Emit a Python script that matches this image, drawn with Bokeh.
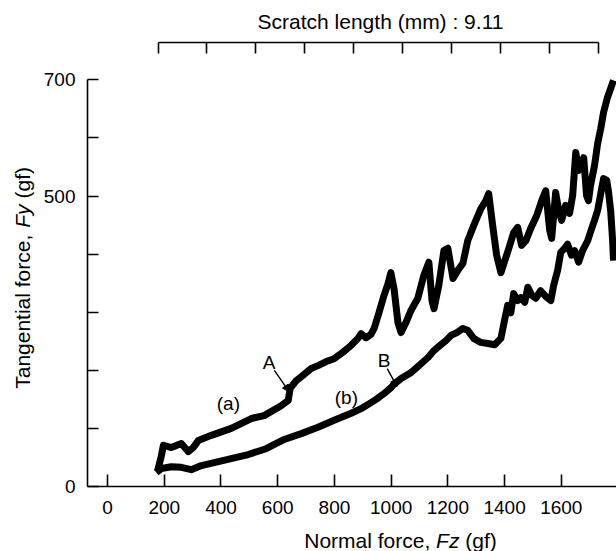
import math
from bokeh.plotting import figure
from bokeh.layouts import column, row
from bokeh.models import (Range1d, LinearAxis, FixedTicker, Label, Arrow, NormalHead)
from bokeh.core.properties import value
from bokeh.embed import file_html
from bokeh.resources import INLINE

# ---------------- data ----------------
fz_a = [176, 190, 197, 225, 260, 285, 302, 320, 366, 436,
        507, 552, 612, 637, 644, 665, 683, 718, 742, 771,
        799, 830, 859, 883, 894, 911, 929, 940, 957, 975,
        989, 999, 1010, 1024, 1035, 1052, 1070, 1094, 1115, 1133,
        1144, 1151, 1168, 1186, 1200, 1218, 1235, 1253, 1270, 1291,
        1316, 1334, 1344, 1358, 1372, 1387, 1401, 1415, 1432, 1446,
        1460, 1475, 1492, 1513, 1531, 1545, 1559, 1566, 1580, 1591,
        1601, 1615, 1629, 1640, 1651, 1661, 1668, 1679, 1689, 1696,
        1703, 1717, 1728, 1739, 1749, 1763, 1774, 1784]
fy_a = [26, 53, 71, 67, 74, 60, 67, 79, 88, 100,
        117, 122, 139, 148, 169, 182, 189, 203, 208, 215,
        220, 231, 243, 255, 263, 256, 262, 272, 299, 329,
        349, 368, 341, 282, 265, 282, 303, 324, 363, 386,
        320, 306, 346, 406, 410, 358, 372, 384, 423, 449,
        478, 492, 504, 449, 398, 368, 389, 410, 437, 446,
        415, 423, 444, 466, 492, 509, 441, 427, 506, 475,
        458, 484, 470, 501, 575, 544, 552, 566, 501, 492,
        518, 552, 590, 616, 644, 670, 685, 699]

fz_b = [172, 190, 225, 260, 295, 331, 376, 436, 496, 559,
        623, 683, 742, 799, 859, 894, 918, 947, 975, 999,
        1010, 1035, 1070, 1098, 1130, 1151, 1175, 1193, 1211, 1232,
        1253, 1270, 1291, 1316, 1341, 1365, 1387, 1401, 1411, 1422,
        1432, 1446, 1457, 1471, 1482, 1496, 1510, 1527, 1545, 1563,
        1573, 1587, 1598, 1612, 1622, 1636, 1647, 1661, 1675, 1693,
        1707, 1717, 1728, 1739, 1749, 1760, 1766, 1774, 1781, 1784]
fy_b = [24, 31, 34, 33, 29, 36, 41, 48, 55, 65,
        81, 91, 102, 114, 126, 134, 141, 150, 160, 170,
        176, 186, 196, 208, 222, 234, 244, 251, 260, 265,
        272, 269, 255, 248, 246, 244, 255, 289, 312, 299,
        332, 320, 325, 317, 343, 329, 324, 337, 327, 320,
        346, 372, 403, 410, 417, 398, 406, 386, 406, 423,
        444, 458, 475, 504, 530, 527, 509, 475, 423, 389]

x_ticks = [0, 200, 400, 600, 800, 1000, 1200, 1400, 1600]
y_ticks = [0, 100, 200, 300, 400, 500, 600, 700]
y_tick_labels = {0: "0", 500: "500", 700: "700"}
mm_ticks = [0, 1, 2, 3, 4, 5, 6, 7, 8, 9]

curve_labels = ["(a)", "(b)"]
curve_label_x = [426, 842]
curve_label_y = [143, 153]
point_labels = ["A", "B"]
point_label_x = [570, 975]
point_label_y = [213, 217]
arrow_x0 = [588, 986]
arrow_y0 = [200, 203]
arrow_x1 = [641, 1021]
arrow_y1 = [163, 172]

top_title = "Scratch length (mm) : 9.11"
x_title = ["Normal force,", "Fz", "(gf)"]
y_title = ["Tangential force,", "Fy", "(gf)"]

# ---------------- layout (pixels) ----------------
PAGE_W, PAGE_H = 616, 551
TOP_H = 34
LEFT_W = 40
MAIN_W = PAGE_W - LEFT_W
BL, BR, BT, BB = 46, 0, 8, 38
FH = 444
MAIN_H = BT + FH + BB
BOT_H = PAGE_H - TOP_H - MAIN_H
X0, X1 = -70.7, 1794.6
Y0, Y1 = 0, 764.2
MM0, MM1 = -1.443, 9.373

FONT = "Liberation Sans"
TF = 21

def text_fig(w, h, y_top, y_bottom, bt=0, bb=0):
    # a bare strip whose frame maps straight to page pixels (y grows downward)
    f = figure(width=w, height=h, output_backend="svg", toolbar_location=None,
               x_range=Range1d(0, w), y_range=Range1d(y_bottom, y_top),
               min_border_left=0, min_border_right=0,
               min_border_top=bt, min_border_bottom=bb,
               x_axis_location=None, y_axis_location=None,
               background_fill_color="white", border_fill_color="white")
    f.outline_line_color = None
    f.grid.visible = False
    return f

def put(f, x, y, text, italic=False, angle=0.0, align="center"):
    f.text(x=[x], y=[y], text=[text], text_font=value(FONT),
           text_font_size=value(f"{TF}px"),
           text_font_style="italic" if italic else "normal",
           text_align=align, text_baseline="middle", angle=angle,
           text_color="black")

# ---------------- main figure ----------------
p = figure(width=MAIN_W, height=MAIN_H, output_backend="svg", toolbar_location=None,
           x_range=Range1d(X0, X1), y_range=Range1d(Y0, Y1),
           min_border_left=BL, min_border_right=BR,
           min_border_top=BT, min_border_bottom=BB,
           background_fill_color="white", border_fill_color="white")
p.outline_line_color = None
p.xgrid.visible = False
p.ygrid.visible = False

def style_axis(ax, tick_in):
    ax.axis_line_color = "black"
    ax.axis_line_width = 1.6
    ax.major_tick_line_color = "black"
    ax.major_tick_line_width = 1.6
    ax.major_tick_in = tick_in
    ax.major_tick_out = 0
    ax.minor_tick_line_color = None
    ax.major_label_text_font = FONT
    ax.major_label_text_font_size = "19px"
    ax.major_label_text_color = "black"

xa = p.xaxis[0]
style_axis(xa, 12)
xa.ticker = FixedTicker(ticks=x_ticks)
xa.major_label_standoff = 14

ya = p.yaxis[0]
style_axis(ya, 11)
ya.ticker = FixedTicker(ticks=y_ticks)
ya.bounds = (0, 700)
ya.major_label_overrides = {t: y_tick_labels.get(t, "") for t in y_ticks}
ya.major_label_standoff = 12

p.extra_x_ranges = {"mm": Range1d(MM0, MM1)}
ta = LinearAxis(x_range_name="mm")
style_axis(ta, 11)
ta.ticker = FixedTicker(ticks=mm_ticks)
ta.bounds = (0, 9)
ta.major_label_overrides = {t: "" for t in mm_ticks}
ta.major_label_text_font_size = "0px"
ta.major_label_standoff = 0
p.add_layout(ta, "above")

for xs, ys in ((fz_a, fy_a), (fz_b, fy_b)):
    p.line(xs, ys, line_color="black", line_width=7, line_join="round")

for t, x, y in zip(curve_labels + point_labels, curve_label_x + point_label_x,
                   curve_label_y + point_label_y):
    p.add_layout(Label(x=x, y=y, text=t, text_font=FONT, text_font_size="19px",
                       text_align="center", text_baseline="middle", text_color="black"))
for x0, y0, x1, y1 in zip(arrow_x0, arrow_y0, arrow_x1, arrow_y1):
    p.add_layout(Arrow(x_start=x0, y_start=y0, x_end=x1, y_end=y1,
                       line_color="black", line_width=1.4,
                       end=NormalHead(size=7, fill_color="black", line_color="black")))

# ---------------- title strips (coordinates are page pixels) ----------------
SP = 0.278  # width of a space, em

top = text_fig(PAGE_W, TOP_H, 0, TOP_H)
put(top, 380, 21, top_title)

# left strip: its frame lines up with the main frame (page y 42..486)
frame_top = TOP_H + BT
frame_bot = TOP_H + BT + FH
left = text_fig(LEFT_W, MAIN_H, frame_top, frame_bot, bt=BT, bb=BB)
e1, e2, e3 = 7.448, 1.111, 1.5
total = (e1 + SP + e2 + SP + e3) * TF
start = 278 + total / 2
put(left, 22, start - (e1 / 2) * TF, y_title[0], angle=math.pi / 2)
put(left, 22, start - (e1 + SP + e2 / 2) * TF, y_title[1], italic=True, angle=math.pi / 2)
put(left, 22, start - (e1 + SP + e2 + SP + e3 / 2) * TF, y_title[2], angle=math.pi / 2)

bottom_top = TOP_H + MAIN_H
bottom = text_fig(PAGE_W, BOT_H, bottom_top, PAGE_H)
f1, f2, f3 = 6.001, 1.111, 1.5
total = (f1 + SP + f2 + SP + f3) * TF
sx = 400 - total / 2
by = 540
put(bottom, sx + (f1 / 2) * TF, by, x_title[0])
put(bottom, sx + (f1 + SP + f2 / 2) * TF, by, x_title[1], italic=True)
put(bottom, sx + (f1 + SP + f2 + SP + f3 / 2) * TF, by, x_title[2])

layout = column(top, row(left, p, spacing=0), bottom, spacing=0)

open("out.html", "w").write(file_html(layout, INLINE))
